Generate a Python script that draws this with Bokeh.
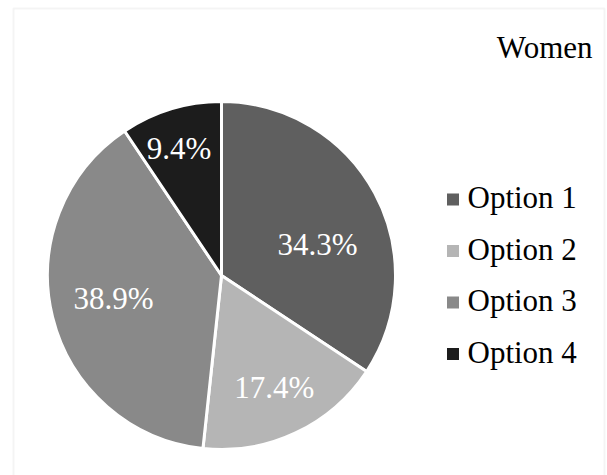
import math
from bokeh.plotting import figure
from bokeh.models import Range1d, BoxAnnotation, ColumnDataSource
from bokeh.core.properties import value
from bokeh.embed import file_html
from bokeh.resources import INLINE

# ---- data ----
title_text = "Women"
categories = ["Option 1", "Option 2", "Option 3", "Option 4"]
percents = [34.3, 17.4, 38.9, 9.4]
colors = ["#5f5f5f", "#b5b5b5", "#898989", "#1c1c1c"]

# ---- layout (pixels, page coordinates with y measured from top) ----
W, H = 607, 475
FONT = "Liberation Serif"
cx_px, cy_px, radius = 221, 275, 174
label_rf = [0.58, 0.714, 0.634, 0.77]     # label distance as fraction of radius
label_nudge = [10.4, 0.0, 1.8, -1.6]      # degrees, best-fit label placement

p = figure(width=W, height=H, output_backend="svg", toolbar_location=None,
           x_range=Range1d(0, W), y_range=Range1d(0, H),
           min_border=0, outline_line_color=None,
           background_fill_color="white", border_fill_color="white")
p.axis.visible = False
p.grid.visible = False

def Y(ypx):
    return H - ypx

cx, cy = cx_px, Y(cy_px)

total = sum(percents)
starts, ends, lx, ly, labels = [], [], [], [], []
cum = 0.0
for i, v in enumerate(percents):
    f0 = cum / total
    cum += v
    f1 = cum / total
    starts.append(math.pi / 2 - 2 * math.pi * f0)
    ends.append(math.pi / 2 - 2 * math.pi * f1)
    theta = math.radians((f0 + f1) / 2 * 360 + label_nudge[i])  # clockwise from top
    r = radius * label_rf[i]
    lx.append(cx + r * math.sin(theta))
    ly.append(cy + r * math.cos(theta))
    labels.append(f"{v:.1f}%")

src = ColumnDataSource(dict(start=starts, end=ends, color=colors, cat=categories,
                            lx=lx, ly=ly, label=labels))

p.wedge(x=cx, y=cy, radius=radius, start_angle="start", end_angle="end",
        direction="clock", fill_color="color", line_color="white", line_width=3,
        source=src)

p.text(x="lx", y="ly", text="label", source=src, text_color="white",
       text_font=value(FONT), text_font_size="31px",
       text_align="center", text_baseline="middle")

# title
p.text(x=[592], y=[Y(47)], text=[title_text], text_color="black",
       text_font=value(FONT), text_font_size="31px",
       text_align="right", text_baseline="middle")

# legend
leg_top, leg_step = 199, 51.5
mx = [452.5] * len(categories)
my = [Y(leg_top + i * leg_step) for i in range(len(categories))]
ty = [Y(leg_top - 2 + i * leg_step) for i in range(len(categories))]
p.scatter(x=mx, y=my, marker="square", size=12, fill_color=colors, line_color=None)
p.text(x=[467] * len(categories), y=ty, text=categories, text_color="black",
       text_font=value(FONT), text_font_size="31px",
       text_align="left", text_baseline="middle")

# chart area border
p.add_layout(BoxAnnotation(left=13, right=604, top=Y(8), bottom=-20,
                           fill_alpha=0, line_color="#d9d9d9", line_width=2))

open("out.html", "w").write(file_html(p, INLINE))
